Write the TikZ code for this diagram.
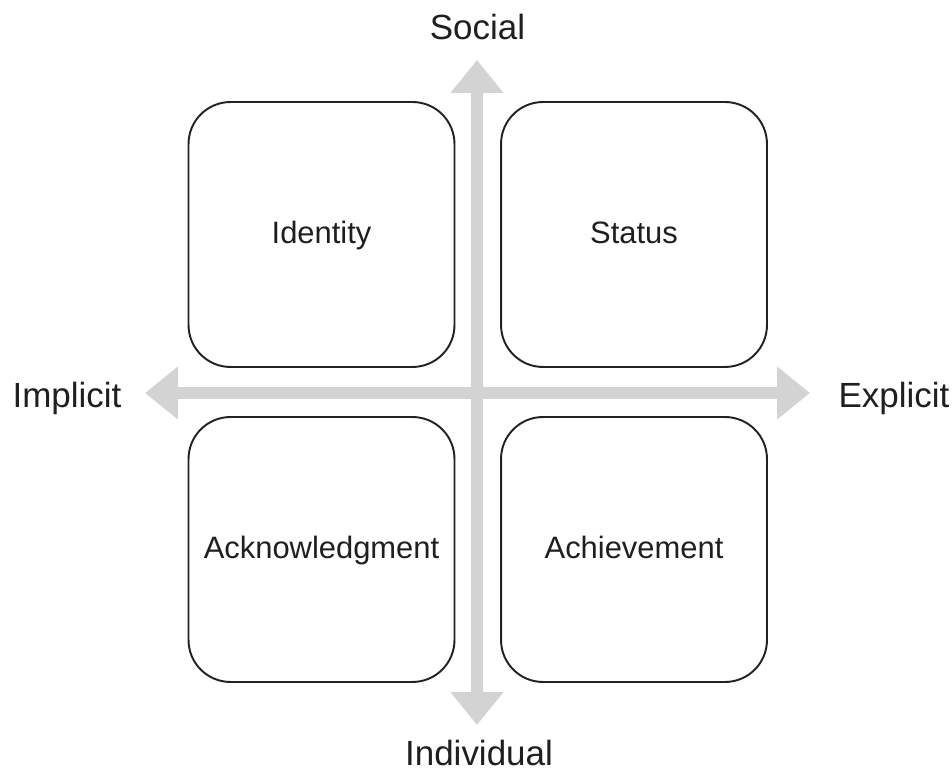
\documentclass[tikz,border=0pt]{standalone}
\usepackage{fontspec}
\setmainfont{Liberation Sans}
\usetikzlibrary{arrows.meta}
\definecolor{axisgray}{RGB}{211,211,211}
\definecolor{boxline}{RGB}{34,34,34}

\begin{document}
\begin{tikzpicture}[x=0.02cm, y=0.02cm, % 1 unit = one pixel of the layout
    every node/.style={text=black!88},
    axislabel/.style={font=\fontsize{19.9}{24}\selectfont, anchor=base}, % labels at the arrow ends
    quadbox/.style={draw=boxline, line width=1.1pt, rounded corners=0.84cm,
                    minimum width=5.32cm, minimum height=5.3cm,
                    font=\fontsize{17.6}{21}\selectfont,
                    text height=1.05em, text depth=0pt}, % same baseline in every box
    axis/.style={axisgray, line width=0.24cm,
                 {Triangle[width=1.02cm,length=0.66cm]}-{Triangle[width=1.02cm,length=0.66cm]}}
  ]
  \useasboundingbox (0,0) rectangle (952,770);

  % arrow ends of the two axes
  \coordinate (top_end) at (477,710);
  \coordinate (bottom_end) at (477,45);
  \coordinate (left_end) at (145,377);
  \coordinate (right_end) at (810,377);

  % the two axes
  \draw[axis] (bottom_end) -- (top_end);
  \draw[axis] (left_end) -- (right_end);

  % axis labels (placed by their baseline)
  \node[axislabel] (social) at (477.5,730) {Social};
  \node[axislabel] (individual) at (479,5) {Individual};
  \node[axislabel] (implicit) at (67,362) {Implicit};
  \node[axislabel] (explicit) at (894,362) {Explicit};

  % the four quadrants
  \node[quadbox] (identity) at (321.5,535.5) {Identity};
  \node[quadbox] (status) at (634,535.5) {Status};
  \node[quadbox] (acknowledgment) at (321.5,220.5) {Acknowledgment};
  \node[quadbox] (achievement) at (634,220.5) {Achievement};

\end{tikzpicture}
\end{document}
